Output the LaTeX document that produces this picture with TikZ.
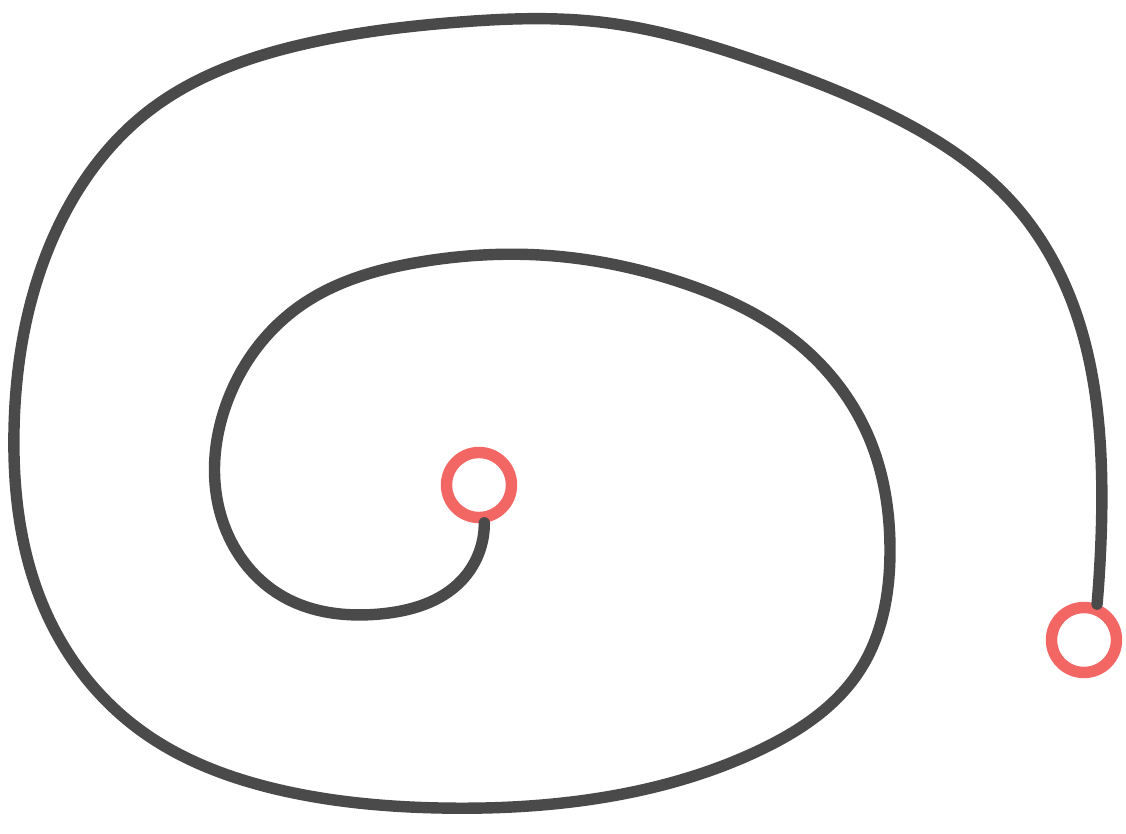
\documentclass[tikz,border=0pt]{standalone}
\usepackage{xcolor}
\usetikzlibrary{hobby}
\definecolor{inkgray}{HTML}{4A4A4A}
\definecolor{inkred}{HTML}{F26663}
\begin{document}
\begin{tikzpicture}[x=0.02cm,y=-0.02cm,
  endring/.style={draw=inkred, circle, line width=6.5pt, minimum size=1.3cm, inner sep=0pt},
  spiral/.style={draw=inkgray, line width=6.5pt, line cap=round, line join=round}]
\useasboundingbox (0,0) rectangle (1126,834);
\node[endring] (inner) at (479,485) {};
\node[endring] (outer) at (1084,640) {};
\draw[spiral, use Hobby shortcut] (inner.-82) .. (462,580) .. (380,614)
  .. (282,596) .. (224,525) .. (226,405) .. (300,306) .. (420,262)
  .. (540,255) .. (680,282) .. (800,345) .. (870,440) .. (890,550)
  .. (860,670) .. (760,750) .. (600,798) .. (440,808) .. (280,790)
  .. (140,730) .. (45,610) .. (14,430) .. (50,245) .. (150,110)
  .. (300,45) .. (460,22) .. (600,22) .. (760,62) .. (900,120)
  .. (1010,200) .. (1075,310) .. (1100,440) .. (1101,540) .. (outer.70);
\end{tikzpicture}
\end{document}
